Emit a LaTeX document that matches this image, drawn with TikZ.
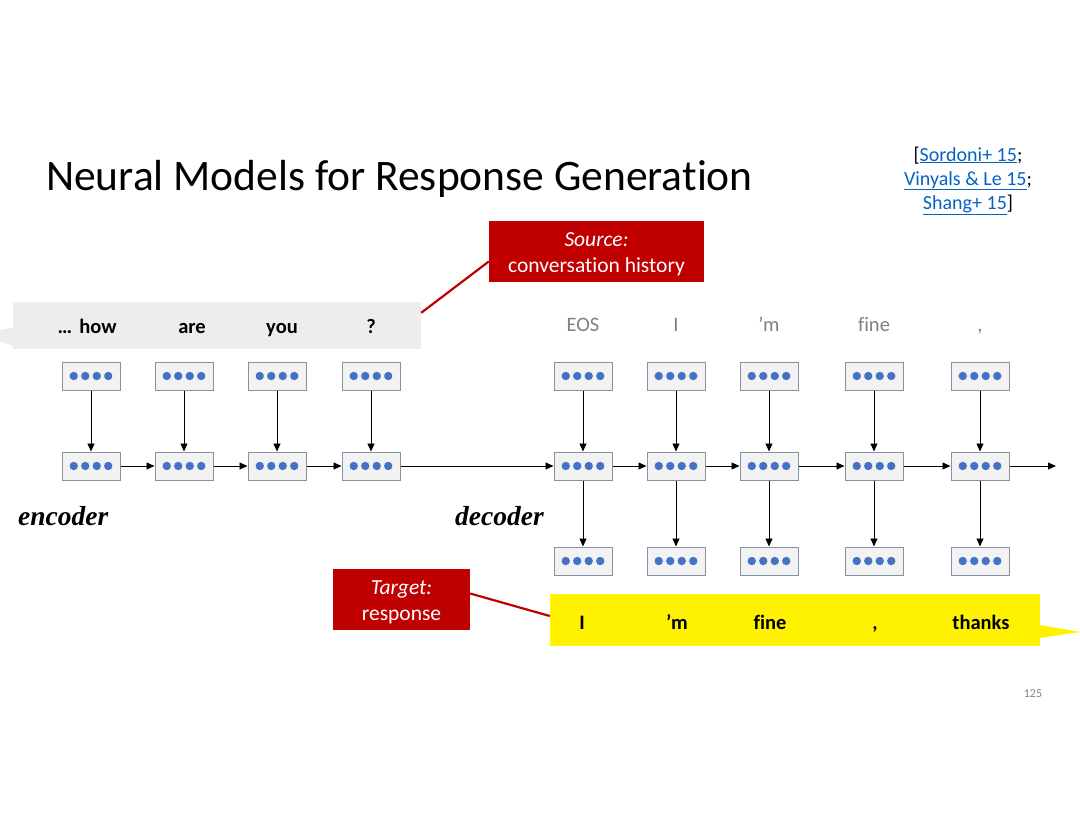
\documentclass[tikz,border=0pt]{standalone}
\usepackage{fontspec}
\setmainfont{Carlito}[Ligatures=NoCommon]
\newfontfamily\serifbi{Liberation Serif}
\usetikzlibrary{arrows.meta}
\definecolor{boxfill}{HTML}{F2F2F2}
\definecolor{boxline}{HTML}{8592A6}
\definecolor{dotblue}{HTML}{4472C4}
\definecolor{darkred}{HTML}{C00000}
\definecolor{labgray}{HTML}{7F7F7F}
\definecolor{barfill}{HTML}{EDEDED}
\definecolor{linkblue}{HTML}{0563C1}
\tikzset{
  vec/.style={rectangle, draw=boxline, fill=boxfill, line width=1pt, minimum width=58pt, minimum height=28pt, inner sep=0pt,
    path picture={\foreach \i in {-1.5,-0.5,0.5,1.5}{\fill[dotblue] ([xshift=\i*11.5pt]path picture bounding box.center) circle (4.2pt);}}},
  arr/.style={-{Triangle[length=8pt,width=7pt]}, line width=0.9pt, black},
  word/.style={font=\fontsize{20.5}{24}\selectfont\bfseries, anchor=base},
  glab/.style={font=\fontsize{20.5}{24}\selectfont, text=labgray, anchor=base},
  redbox/.style={rectangle, fill=darkred, inner sep=0pt},
  redtext/.style={text=white, align=center, inner sep=0pt, font=\fontsize{21.5}{25.5}\selectfont},
  redline/.style={draw=darkred, line width=2.2pt},
  cite/.style={font=\fontsize{20}{22}\selectfont, anchor=base},
}
\newcommand{\lnk}[1]{\textcolor{linkblue}{\underline{#1}}}
\begin{document}
\begin{tikzpicture}[x=1pt,y=-1pt]
\useasboundingbox (0,0) rectangle (1080,835);
% title
\node[anchor=base west, inner sep=0pt, font=\fontsize{43.5}{50}\selectfont] (title) at (46,190) {Neural Models for Response Generation};
% citations
\node[cite] (c1) at (968,161) {[\lnk{Sordoni+ 15};};
\node[cite] (c2) at (968,185) {\lnk{Vinyals \& Le 15};};
\node[cite] (c3) at (968,209) {\lnk{Shang+ 15}]};
% source callout bar
\fill[barfill] (13,302) rectangle (421,349);
\fill[barfill] (13,328) -- (0,330) -- (0,341) -- (13,346) -- cycle;
\node[minimum width=408pt, minimum height=47pt, inner sep=0pt] (srcbar) at (217,325.5) {};
\node[word] (w0) at (65,333) {…};
\node[word] (w1) at (98,333) {how};
\node[word] (w2) at (192,333) {are};
\node[word] (w3) at (282,333) {you};
\node[word] (w4) at (371,333) {?};
% source label
\node[redbox, minimum width=215pt, minimum height=61pt] (src) at (596.5,251.5) {};
\node[redtext] (srctxt) at (596.5,254.5) {\itshape Source:\\conversation history};
\draw[redline] ([yshift=-10pt]src.west) -- ([yshift=-11pt]srcbar.north east);
% encoder
\foreach \n/\x in {1/91,2/184,3/277,4/371}{
  \node[vec] (e\n) at (\x,376) {};
  \node[vec] (h\n) at (\x,466) {};
  \draw[arr] (e\n) -- (h\n);
}
\draw[arr] (h1) -- (h2);
\draw[arr] (h2) -- (h3);
\draw[arr] (h3) -- (h4);
% decoder labels
\node[glab] (l1) at (583,331) {EOS};
\node[glab] (l2) at (676,331) {I};
\node[glab] (l3) at (769,331) {’m};
\node[glab] (l4) at (874,331) {fine};
\node[glab] (l5) at (980,331) {,};
% decoder
\foreach \n/\x in {1/583,2/676,3/769,4/874,5/980}{
  \node[vec] (d\n) at (\x,376) {};
  \node[vec] (s\n) at (\x,466) {};
  \node[vec] (o\n) at (\x,561) {};
  \draw[arr] (d\n) -- (s\n);
  \draw[arr] (s\n) -- (o\n);
}
\draw[arr] (h4) -- (s1);
\draw[arr] (s1) -- (s2);
\draw[arr] (s2) -- (s3);
\draw[arr] (s3) -- (s4);
\draw[arr] (s4) -- (s5);
\coordinate (end) at (1056,466);
\draw[arr] (s5) -- (end);
% encoder/decoder labels
\node[anchor=base west, inner sep=0pt, font=\serifbi\fontsize{27.5}{30}\selectfont\bfseries\itshape] (enc) at (18,525) {encoder};
\node[anchor=base west, inner sep=0pt, font=\serifbi\fontsize{27.5}{30}\selectfont\bfseries\itshape] (dec) at (455,525) {decoder};
% target callout
\fill[yellow] (550,594) rectangle (1040,646);
\fill[yellow] (1040,625) -- (1080,632) -- (1040,638) -- cycle;
\node[minimum width=490pt, minimum height=52pt, inner sep=0pt] (tgtbar) at (795,620) {};
\node[word] (t1) at (582,629) {I};
\node[word] (t2) at (677,629) {’m};
\node[word] (t3) at (770,629) {fine};
\node[word] (t4) at (875,629) {,};
\node[word] (t5) at (981,629) {thanks};
\node[redbox, minimum width=137pt, minimum height=61pt] (tgt) at (401.5,599.5) {};
\node[redtext] (tgttxt) at (401.5,602.5) {\itshape Target:\\response};
\draw[redline] ([yshift=6pt]tgt.east) -- ([yshift=4pt]tgtbar.west);
% page number
\node[anchor=base, font=\fontsize{12}{14}\selectfont, text=labgray] (pg) at (1033,697) {125};
\end{tikzpicture}
\end{document}
